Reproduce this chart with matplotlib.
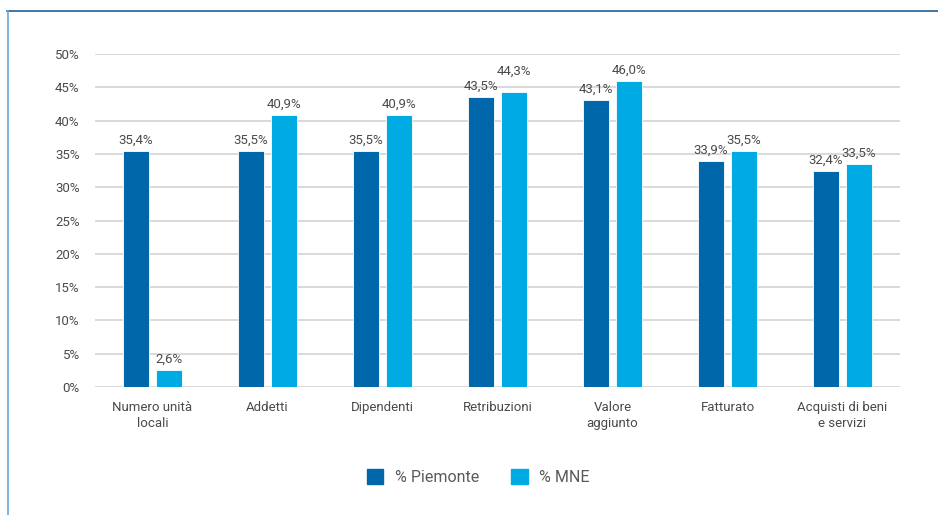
import numpy as np
import matplotlib.pyplot as plt
from matplotlib.lines import Line2D
from matplotlib.patches import Patch

plt.rcParams['font.family'] = ['Roboto', 'DejaVu Sans']

categories = ["Numero unità\nlocali", "Addetti", "Dipendenti", "Retribuzioni",
              "Valore\naggiunto", "Fatturato", "Acquisti di beni\ne servizi"]
piemonte = [35.4, 35.5, 35.5, 43.5, 43.1, 33.9, 32.4]
mne = [2.6, 40.9, 40.9, 44.3, 46.0, 35.5, 33.5]
yticks = [0, 5, 10, 15, 20, 25, 30, 35, 40, 45, 50]

dark = '#0067ab'
light = '#00abe3'
txt = '#4a4a4a'

fig = plt.figure(figsize=(9.38, 5.15), dpi=100)
ax = fig.add_axes([95 / 938, 1 - 387 / 515, 805 / 938, 333 / 515])

x = np.arange(len(categories))
w = 0.226
off = 0.143
ax.bar(x - off, piemonte, w, color=dark, edgecolor='white', linewidth=0.6, zorder=3)
ax.bar(x + off, mne, w, color=light, edgecolor='white', linewidth=0.6, zorder=3)

def fmt(v):
    return f"{v:.1f}%".replace('.', ',')

for i in range(len(categories)):
    ax.annotate(fmt(piemonte[i]), (x[i] - off, piemonte[i]), xytext=(0, 3),
                textcoords='offset points', ha='center', va='bottom',
                fontsize=9.5, color=txt)
    # Excel pushes the second label up when the two bars are almost equal
    lift = 7 if abs(mne[i] - piemonte[i]) < 1 else 0
    ax.annotate(fmt(mne[i]), (x[i] + off, mne[i]), xytext=(0, 3 + lift),
                textcoords='offset points', ha='center', va='bottom',
                fontsize=9.5, color=txt)

ax.set_xlim(-0.5, len(categories) - 0.5)
ax.set_ylim(0, 50)
ax.set_yticks(yticks)
ax.set_yticklabels([f"{t}%" for t in yticks], fontsize=9.5, color=txt)
ax.set_xticks(x)
ax.set_xticklabels(categories, fontsize=9.5, color=txt, linespacing=1.35)
ax.tick_params(length=0, axis='y', pad=11)
ax.tick_params(length=0, axis='x', pad=10)
ax.grid(axis='y', color='#d9d9d9', linewidth=1.4, zorder=0)
for s in ax.spines.values():
    s.set_visible(False)

handles = [Patch(color=dark, label='% Piemonte'), Patch(color=light, label='% MNE')]
fig.legend(handles=handles, loc='center', bbox_to_anchor=(478 / 938, 1 - 477 / 515),
           ncol=2, frameon=False, fontsize=11.5, handlelength=1.05, handleheight=1.05,
           columnspacing=2.0, handletextpad=0.7, labelcolor='#5a5a5a')

fig.add_artist(Line2D([7 / 938, 1], [1 - 11 / 515, 1 - 11 / 515], color='#1f5f96', linewidth=1.2))
fig.add_artist(Line2D([8 / 938, 8 / 938], [0, 1 - 11 / 515], color='#6fa8d6', linewidth=1.2))

fig.savefig('out.png', dpi=100)
